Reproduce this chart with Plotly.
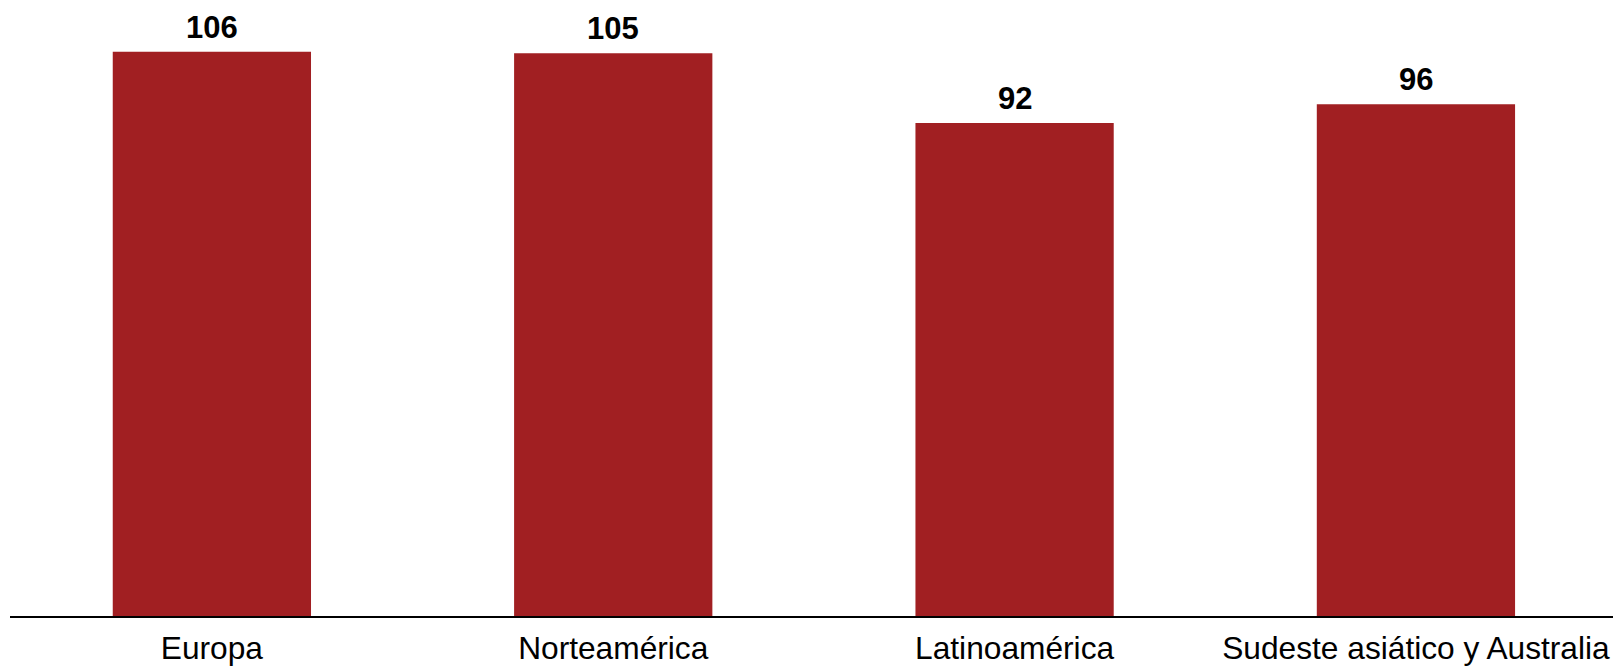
import plotly.graph_objects as go

categories = ["Europa", "Norteamérica", "Latinoamérica", "Sudeste asiático y Australia"]
values = [105.6, 105.35, 92.3, 95.8]

BAR_COLOR = "#A11F22"
FONT = "Arial, 'Liberation Sans', sans-serif"

xpos = list(range(len(categories)))

fig = go.Figure(
    go.Bar(
        x=xpos,
        y=values,
        width=0.494,
        marker=dict(color=BAR_COLOR, line=dict(width=0)),
        hoverinfo="skip",
    )
)

for xi, v in zip(xpos, values):
    fig.add_annotation(
        x=xi,
        y=v,
        text=f"{v:.0f}",
        showarrow=False,
        yanchor="bottom",
        yshift=5,
        font=dict(family=FONT, size=31, color="#000000", weight="bold"),
    )

fig.update_layout(
    width=1613,
    height=666,
    margin=dict(l=10, r=0, t=0, b=48),
    paper_bgcolor="white",
    plot_bgcolor="white",
    showlegend=False,
    font=dict(family=FONT, color="#000000"),
)

fig.update_xaxes(
    range=[-0.503, 3.491],
    tickmode="array",
    tickvals=xpos,
    ticktext=categories,
    tickfont=dict(family=FONT, size=31.7, color="#000000"),
    ticklabelstandoff=3,
    showline=True,
    linecolor="#000000",
    linewidth=2,
    showgrid=False,
    zeroline=False,
    ticks="",
)

fig.update_yaxes(
    range=[0, 115.3],
    visible=False,
    showgrid=False,
    zeroline=False,
)

fig.write_html(
    "out.html",
    config={"displayModeBar": False},
    post_script="document.body.style.margin='0';document.body.style.overflow='hidden';",
)
